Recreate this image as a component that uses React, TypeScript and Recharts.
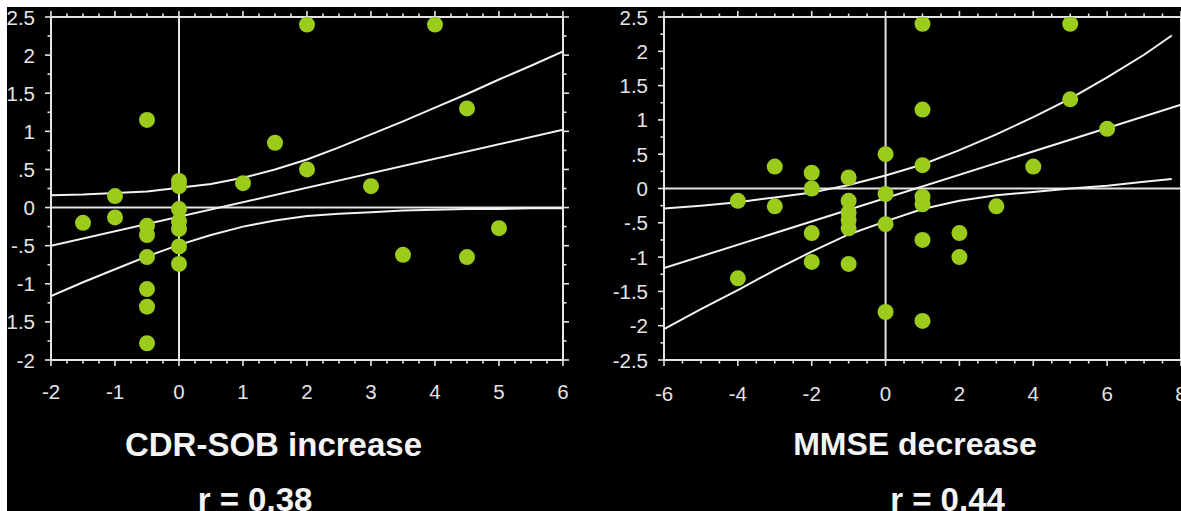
import React from 'react';
import { ScatterChart, Scatter, XAxis, YAxis, ReferenceLine } from 'recharts';

// ---------- Left panel: CDR-SOB increase ----------
const leftX = [-1.5, -1, -1, -0.5, -0.5, -0.5, -0.5, -0.5, -0.5, -0.5, 0, 0, 0, 0, 0, 0, 0, 1, 1.5, 2, 2, 3, 3.5, 4, 4.5, 4.5, 5];
const leftY = [-0.2, 0.15, -0.13, 1.15, -0.24, -0.36, -0.65, -1.07, -1.3, -1.78, 0.35, 0.28, -0.02, -0.18, -0.28, -0.51, -0.74, 0.32, 0.85, 2.4, 0.5, 0.28, -0.62, 2.4, 1.3, -0.65, -0.27];

const leftFitX = [-2, 6];
const leftFitY = [-0.5, 1.02];
const leftBandX = [-2, -1.5, -1, -0.5, 0, 0.5, 1, 1.5, 2, 2.5, 3, 3.5, 4, 4.5, 5, 5.5, 6];
const leftUpperY = [0.16, 0.17, 0.19, 0.21, 0.26, 0.31, 0.39, 0.5, 0.63, 0.79, 0.96, 1.13, 1.31, 1.49, 1.68, 1.86, 2.05];
const leftLowerY = [-1.16, -0.98, -0.81, -0.64, -0.49, -0.36, -0.25, -0.17, -0.11, -0.08, -0.06, -0.04, -0.03, -0.02, -0.02, -0.01, -0.01];

const leftXTicks = [-2, -1.75, -1.5, -1.25, -1, -0.75, -0.5, -0.25, 0, 0.25, 0.5, 0.75, 1, 1.25, 1.5, 1.75, 2, 2.25, 2.5, 2.75, 3, 3.25, 3.5, 3.75, 4, 4.25, 4.5, 4.75, 5, 5.25, 5.5, 5.75, 6];
const leftXMajor = [-2, -1, 0, 1, 2, 3, 4, 5, 6];
const leftXLabels = ['-2', '-1', '0', '1', '2', '3', '4', '5', '6'];
const leftYTicks = [-2, -1.75, -1.5, -1.25, -1, -0.75, -0.5, -0.25, 0, 0.25, 0.5, 0.75, 1, 1.25, 1.5, 1.75, 2, 2.25, 2.5];
const leftYMajor = [-2, -1.5, -1, -0.5, 0, 0.5, 1, 1.5, 2, 2.5];
const leftYLabels = ['-2', '-1.5', '-1', '-.5', '0', '.5', '1', '1.5', '2', '2.5'];

// ---------- Right panel: MMSE decrease ----------
const rightX = [-4, -4, -3, -3, -2, -2, -2, -2, -1, -1, -1, -1, -1, -1, 0, 0, 0, 0, 1, 1, 1, 1, 1, 1, 1, 2, 2, 3, 4, 5, 5, 6];
const rightY = [-0.18, -1.31, 0.32, -0.26, 0.23, 0.0, -0.65, -1.07, 0.16, -0.18, -0.35, -0.46, -0.58, -1.1, 0.5, -0.08, -0.52, -1.8, 2.4, 1.15, 0.34, -0.12, -0.23, -0.75, -1.93, -0.65, -1.0, -0.26, 0.32, 2.4, 1.3, 0.87];

const rightFitX = [-6, 8];
const rightFitY = [-1.16, 1.22];
const rightBandX = [-6, -5, -4, -3, -2, -1, 0, 1, 2, 3, 4, 5, 6, 7, 7.75];
const rightUpperY = [-0.29, -0.25, -0.2, -0.13, -0.06, 0.05, 0.19, 0.35, 0.56, 0.79, 1.04, 1.31, 1.62, 1.95, 2.23];
const rightLowerY = [-2.05, -1.76, -1.48, -1.19, -0.92, -0.67, -0.48, -0.3, -0.18, -0.1, -0.05, 0.0, 0.04, 0.1, 0.14];

const rightXTicks = [-6, -5.5, -5, -4.5, -4, -3.5, -3, -2.5, -2, -1.5, -1, -0.5, 0, 0.5, 1, 1.5, 2, 2.5, 3, 3.5, 4, 4.5, 5, 5.5, 6, 6.5, 7, 7.5, 8];
const rightXMajor = [-6, -4, -2, 0, 2, 4, 6, 8];
const rightXLabels = ['-6', '-4', '-2', '0', '2', '4', '6', '8'];
const rightYTicks = [-2.5, -2.25, -2, -1.75, -1.5, -1.25, -1, -0.75, -0.5, -0.25, 0, 0.25, 0.5, 0.75, 1, 1.25, 1.5, 1.75, 2, 2.25, 2.5];
const rightYMajor = [-2.5, -2, -1.5, -1, -0.5, 0, 0.5, 1, 1.5, 2, 2.5];
const rightYLabels = ['-2.5', '-2', '-1.5', '-1', '-.5', '0', '.5', '1', '1.5', '2', '2.5'];

const FONT = '"Liberation Sans", Arial, sans-serif';
const AXIS = '#e4e4e4';
const LINE = '#f2f2f2';
const DOT = '#9bcb1b';
const TICK_FONT = 20.5;

const pts = (xs: number[], ys: number[]) => xs.map((x, i) => ({ x, y: ys[i] }));

type Side = 'bottom' | 'top' | 'left' | 'right';

const makeTick = (side: Side, majors: number[], labels: string[] | null, offset: number) => (props: any) => {
  const { x, y, payload } = props;
  const v = payload ? payload.value : 0;
  const idx = majors.findIndex((m) => Math.abs(m - v) < 1e-6);
  const major = idx >= 0;
  const len = major ? 6 : 3.5;
  let x2 = x;
  let y2 = y;
  if (side === 'bottom') y2 = y + len;
  if (side === 'top') y2 = y - len;
  if (side === 'left') x2 = x - len;
  if (side === 'right') x2 = x + len;
  const label = labels && major ? labels[idx] : null;
  return (
    <g>
      <line x1={x} y1={y} x2={x2} y2={y2} stroke={AXIS} strokeWidth={1.6} />
      {label !== null && side === 'bottom' && (
        <text x={x} y={y + offset} textAnchor="middle" dominantBaseline="central" fill={AXIS} fontSize={TICK_FONT} fontFamily={FONT}>
          {label}
        </text>
      )}
      {label !== null && side === 'left' && (
        <text x={x - offset} y={y} textAnchor="end" dominantBaseline="central" fill={AXIS} fontSize={TICK_FONT} fontFamily={FONT}>
          {label}
        </text>
      )}
    </g>
  );
};

const Dot = (props: any) => {
  const { cx, cy } = props;
  if (cx == null || cy == null) return <g />;
  return <circle cx={cx} cy={cy} r={8} fill={DOT} />;
};
const NoShape = () => <g />;

const axisLine = { stroke: AXIS, strokeWidth: 2 };

interface PanelProps {
  width: number;
  margin: { top: number; right: number; bottom: number; left: number };
  xDomain: [number, number];
  yDomain: [number, number];
  xTicks: number[];
  xMajor: number[];
  xLabels: string[];
  yTicks: number[];
  yMajor: number[];
  yLabels: string[];
  leftWidth: number;
  rightWidth: number;
  xLabelOffset: number;
  points: { x: number; y: number }[];
  fit: { x: number; y: number }[];
  upper: { x: number; y: number }[];
  lower: { x: number; y: number }[];
}

function Panel(p: PanelProps) {
  return (
    <ScatterChart width={p.width} height={504} margin={p.margin}>
      <XAxis
        xAxisId="b"
        type="number"
        dataKey="x"
        domain={p.xDomain}
        allowDataOverflow
        ticks={p.xTicks}
        interval={0}
        height={30}
        tickSize={0}
        tickMargin={0}
        tickLine={false}
        axisLine={axisLine}
        tick={makeTick('bottom', p.xMajor, p.xLabels, p.xLabelOffset)}
      />
      <XAxis
        xAxisId="t"
        orientation="top"
        type="number"
        dataKey="x"
        domain={p.xDomain}
        allowDataOverflow
        ticks={p.xTicks}
        interval={0}
        height={10}
        tickSize={0}
        tickMargin={0}
        tickLine={false}
        axisLine={axisLine}
        tick={makeTick('top', p.xMajor, null, 0)}
      />
      <YAxis
        yAxisId="l"
        type="number"
        dataKey="y"
        domain={p.yDomain}
        allowDataOverflow
        ticks={p.yTicks}
        interval={0}
        width={p.leftWidth}
        tickSize={0}
        tickMargin={0}
        tickLine={false}
        axisLine={axisLine}
        tick={makeTick('left', p.yMajor, p.yLabels, 16)}
      />
      <YAxis
        yAxisId="r"
        orientation="right"
        type="number"
        dataKey="y"
        domain={p.yDomain}
        allowDataOverflow
        ticks={p.yTicks}
        interval={0}
        width={p.rightWidth}
        tickSize={0}
        tickMargin={0}
        tickLine={false}
        axisLine={axisLine}
        tick={makeTick('right', p.yMajor, null, 0)}
      />
      <ReferenceLine xAxisId="b" yAxisId="l" x={0} stroke={AXIS} strokeWidth={2} />
      <ReferenceLine xAxisId="b" yAxisId="l" y={0} stroke={AXIS} strokeWidth={2} />
      <Scatter xAxisId="b" yAxisId="l" data={p.upper} line={{ stroke: LINE, strokeWidth: 2 }} lineType="joint" shape={NoShape} isAnimationActive={false} />
      <Scatter xAxisId="b" yAxisId="l" data={p.fit} line={{ stroke: LINE, strokeWidth: 2 }} lineType="joint" shape={NoShape} isAnimationActive={false} />
      <Scatter xAxisId="b" yAxisId="l" data={p.lower} line={{ stroke: LINE, strokeWidth: 2 }} lineType="joint" shape={NoShape} isAnimationActive={false} />
      <Scatter xAxisId="b" yAxisId="l" data={p.points} shape={Dot} isAnimationActive={false} />
    </ScatterChart>
  );
}

const titleStyle = { fill: '#f4f4f4', fontFamily: FONT, fontWeight: 700 as const };

export default function App() {
  return (
    <div style={{ position: 'absolute', left: 7, top: 7, width: 1174, height: 504, background: '#000', overflow: 'hidden' }}>
      <div style={{ position: 'absolute', left: 0, top: 0 }}>
        <Panel
          width={590}
          margin={{ top: 0, right: 0, bottom: 121, left: 0 }}
          xDomain={[-2, 6]}
          yDomain={[-2, 2.5]}
          xTicks={leftXTicks}
          xMajor={leftXMajor}
          xLabels={leftXLabels}
          yTicks={leftYTicks}
          yMajor={leftYMajor}
          yLabels={leftYLabels}
          leftWidth={44}
          rightWidth={34}
          xLabelOffset={31}
          points={pts(leftX, leftY)}
          fit={pts(leftFitX, leftFitY)}
          upper={pts(leftBandX, leftUpperY)}
          lower={pts(leftBandX, leftLowerY)}
        />
      </div>
      <div style={{ position: 'absolute', left: 590, top: 0 }}>
        <Panel
          width={594}
          margin={{ top: 0, right: 0, bottom: 121, left: 0 }}
          xDomain={[-6, 8]}
          yDomain={[-2.5, 2.5]}
          xTicks={rightXTicks}
          xMajor={rightXMajor}
          xLabels={rightXLabels}
          yTicks={rightYTicks}
          yMajor={rightYMajor}
          yLabels={rightYLabels}
          leftWidth={67}
          rightWidth={10}
          xLabelOffset={33}
          points={pts(rightX, rightY)}
          fit={pts(rightFitX, rightFitY)}
          upper={pts(rightBandX, rightUpperY)}
          lower={pts(rightBandX, rightLowerY)}
        />
      </div>
      <svg width={1174} height={504} style={{ position: 'absolute', left: 0, top: 0, pointerEvents: 'none' }}>
        <text x={266.5} y={449} textAnchor="middle" fontSize={33} {...titleStyle}>CDR-SOB increase</text>
        <text x={248} y={504} textAnchor="middle" fontSize={33} {...titleStyle}>r = 0.38</text>
        <text x={908} y={448} textAnchor="middle" fontSize={32} {...titleStyle}>MMSE decrease</text>
        <text x={940.5} y={504} textAnchor="middle" fontSize={33} {...titleStyle}>r = 0.44</text>
      </svg>
    </div>
  );
}
